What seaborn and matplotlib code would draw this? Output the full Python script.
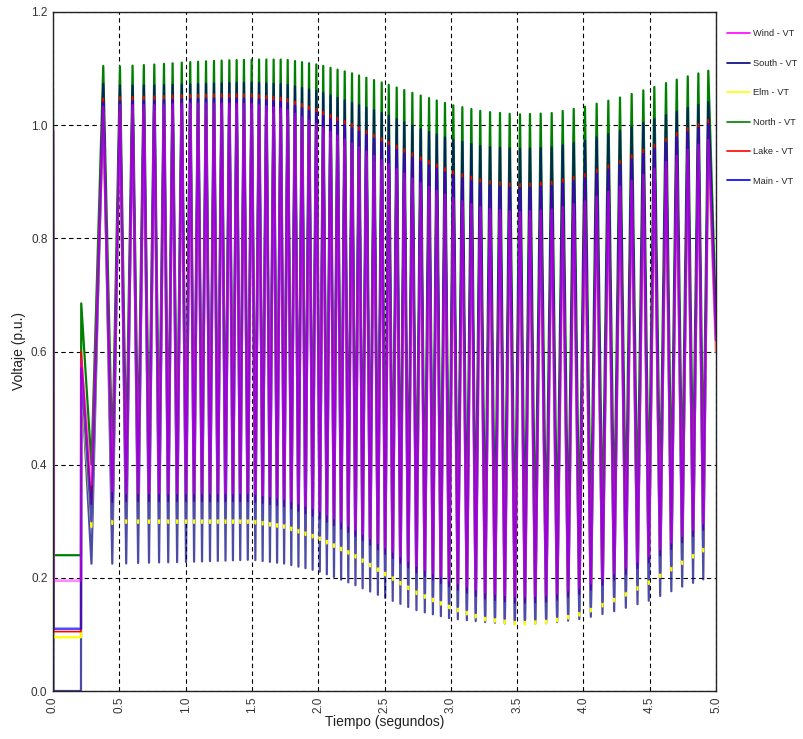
import numpy as np
import pandas as pd
import matplotlib
matplotlib.use("Agg")
import matplotlib.pyplot as plt
import seaborn as sns
from matplotlib.lines import Line2D

# series (legend order) and their colours
SERIES = ["Wind - VT", "South - VT", "Elm - VT", "North - VT", "Lake - VT", "Main - VT"]
COLORS = ["#ff00ff", "#000080", "#ffff00", "#008000", "#ff0000", "#0000ff"]

# fault period: pre-fault, fault applied, fault held, fault cleared
START_T = [0.0, 0.004, 0.211, 0.213]
START_V = {
    "Wind - VT":  [0.99, 0.195, 0.195, 0.585],
    "South - VT": [0.99, 0.0, 0.0, 0.56],
    "Elm - VT":   [0.975, 0.095, 0.095, 0.55],
    "North - VT": [1.062, 0.24, 0.24, 0.685],
    "Lake - VT":  [0.99, 0.105, 0.105, 0.60],
    "Main - VT":  [0.99, 0.11, 0.11, 0.57],
}

# times of the oscillation maxima
PEAK_T = [0.379, 0.505, 0.600, 0.685, 0.764, 0.837, 0.902, 0.971, 1.035, 1.094,
          1.154, 1.214, 1.272, 1.330, 1.385, 1.440, 1.498, 1.554, 1.609, 1.664,
          1.717, 1.770, 1.825, 1.878, 1.931, 1.986, 2.038, 2.093, 2.146, 2.200,
          2.255, 2.308, 2.363, 2.421, 2.479, 2.532, 2.592, 2.649, 2.710, 2.773,
          2.836, 2.894, 2.956, 3.019, 3.087, 3.155, 3.222, 3.296, 3.371, 3.444,
          3.522, 3.597, 3.678, 3.761, 3.844, 3.927, 4.012, 4.100, 4.188, 4.276,
          4.364, 4.452, 4.535, 4.623, 4.704, 4.787, 4.867, 4.942]
# times of the minima (the first one before each maximum)
TROUGH_T = [0.290, 0.447, 0.552, 0.642, 0.724, 0.800, 0.869, 0.936, 1.003, 1.064,
            1.124, 1.184, 1.243, 1.301, 1.357, 1.412, 1.469, 1.526, 1.581, 1.636,
            1.690, 1.743, 1.797, 1.851, 1.904, 1.958, 2.012, 2.065, 2.119, 2.173,
            2.227, 2.281, 2.335, 2.392, 2.450, 2.505, 2.562, 2.620, 2.679, 2.741,
            2.804, 2.865, 2.925, 2.987, 3.053, 3.121, 3.188, 3.259, 3.333, 3.407,
            3.483, 3.559, 3.637, 3.719, 3.802, 3.885, 3.969, 4.056, 4.144, 4.232,
            4.320, 4.408, 4.493, 4.579, 4.663, 4.745, 4.827, 4.904]

# envelopes (max / min of each swing) read at these times
ENV_T = [0.3, 0.5, 0.75, 1.0, 1.25, 1.5, 1.75, 2.0, 2.25, 2.5,
         2.75, 3.0, 3.25, 3.5, 3.75, 4.0, 4.25, 4.5, 4.75, 5.0]
UPPER = {
    "North - VT": [1.105, 1.104, 1.107, 1.111, 1.114, 1.116, 1.116, 1.107, 1.092, 1.074,
                   1.054, 1.036, 1.024, 1.019, 1.021, 1.032, 1.047, 1.065, 1.084, 1.100],
    "South - VT": [1.075, 1.070, 1.070, 1.072, 1.074, 1.075, 1.072, 1.060, 1.040, 1.020,
                   0.995, 0.975, 0.962, 0.958, 0.960, 0.972, 0.988, 1.008, 1.028, 1.045],
    "Lake - VT":  [1.046, 1.050, 1.051, 1.054, 1.055, 1.055, 1.048, 1.028, 1.003, 0.975,
                   0.946, 0.920, 0.903, 0.896, 0.900, 0.913, 0.935, 0.962, 0.992, 1.015],
    "Main - VT":  [1.038, 1.042, 1.043, 1.046, 1.047, 1.047, 1.040, 1.020, 0.995, 0.967,
                   0.938, 0.912, 0.895, 0.888, 0.892, 0.905, 0.927, 0.954, 0.984, 1.007],
    "Wind - VT":  [1.030, 1.035, 1.035, 1.038, 1.038, 1.037, 1.028, 1.000, 0.968, 0.935,
                   0.900, 0.872, 0.853, 0.846, 0.850, 0.864, 0.888, 0.918, 0.952, 0.980],
    "Elm - VT":   [1.020, 1.025, 1.025, 1.028, 1.028, 1.027, 1.018, 0.990, 0.958, 0.925,
                   0.890, 0.862, 0.843, 0.836, 0.840, 0.854, 0.878, 0.908, 0.942, 0.970],
}
LOWER = {
    "North - VT": [0.400, 0.420, 0.420, 0.420, 0.420, 0.420, 0.410, 0.390, 0.360, 0.330,
                   0.300, 0.270, 0.255, 0.250, 0.255, 0.270, 0.295, 0.325, 0.360, 0.390],
    "South - VT": [0.225, 0.225, 0.227, 0.228, 0.230, 0.232, 0.225, 0.212, 0.190, 0.165,
                   0.142, 0.128, 0.122, 0.118, 0.120, 0.128, 0.142, 0.160, 0.185, 0.205],
    "Lake - VT":  [0.330, 0.335, 0.335, 0.335, 0.335, 0.335, 0.326, 0.306, 0.278, 0.243,
                   0.208, 0.183, 0.163, 0.155, 0.158, 0.173, 0.198, 0.228, 0.263, 0.298],
    "Main - VT":  [0.300, 0.305, 0.305, 0.305, 0.305, 0.305, 0.296, 0.276, 0.248, 0.213,
                   0.178, 0.153, 0.133, 0.125, 0.128, 0.143, 0.168, 0.198, 0.233, 0.268],
    "Wind - VT":  [0.365, 0.350, 0.350, 0.350, 0.350, 0.350, 0.340, 0.320, 0.290, 0.255,
                   0.220, 0.195, 0.175, 0.167, 0.170, 0.185, 0.210, 0.240, 0.275, 0.310],
    "Elm - VT":   [0.290, 0.297, 0.297, 0.297, 0.297, 0.297, 0.288, 0.268, 0.240, 0.205,
                   0.170, 0.145, 0.125, 0.117, 0.120, 0.135, 0.160, 0.190, 0.225, 0.260],
}
END_T = 5.0
END_V = {"Wind - VT": 0.60, "South - VT": 0.62, "Elm - VT": 0.60,
         "North - VT": 0.66, "Lake - VT": 0.63, "Main - VT": 0.62}


def build(name):
    t = list(START_T)
    v = list(START_V[name])
    for i, tp in enumerate(PEAK_T):
        tt = TROUGH_T[i]
        t.append(tt)
        v.append(np.interp(tt, ENV_T, LOWER[name]))
        t.append(tp)
        v.append(np.interp(tp, ENV_T, UPPER[name]))
    t.append(END_T)
    v.append(END_V[name])
    return pd.DataFrame({"t": t, "v": v})


def main():
    sns.set_style("white")
    plt.rcParams["font.family"] = ["Liberation Sans", "DejaVu Sans"]

    fig = plt.figure(figsize=(8.04, 7.39), dpi=100)
    ax = fig.add_axes([53 / 804, 1 - 691 / 739, 663 / 804, 679 / 739])

    color = dict(zip(SERIES, COLORS))
    # drawing order: Wind last so it blends purple over Main
    order = [("North - VT", 1.0, 1.6), ("South - VT", 0.7, 1.6), ("Elm - VT", 1.0, 1.6),
             ("Lake - VT", 1.0, 1.2), ("Main - VT", 0.7, 1.8), ("Wind - VT", 0.45, 2.0)]
    for name, alpha, lw in order:
        df = build(name)
        sns.lineplot(data=df, x="t", y="v", color=color[name], linewidth=lw,
                     alpha=alpha, estimator=None, sort=False, ax=ax)

    ax.set_xlim(0, 5)
    ax.set_ylim(0, 1.2)
    ax.set_xticks(np.arange(0, 5.01, 0.5))
    ax.set_xticklabels([f"{x:.1f}" for x in np.arange(0, 5.01, 0.5)], rotation=90)
    ax.set_yticks(np.arange(0, 1.21, 0.2))
    ax.set_yticklabels([f"{y:.1f}" for y in np.arange(0, 1.21, 0.2)])
    ax.tick_params(length=0, labelsize=8.5, labelcolor="#333333", pad=4)
    ax.grid(True, color="black", linestyle=(0, (4, 3)), linewidth=0.8)
    for s in ax.spines.values():
        s.set_color("#222222")
        s.set_linewidth(1.0)

    ax.set_xlabel("Tiempo (segundos)", fontsize=10, color="#222222")
    ax.set_ylabel("Voltaje (p.u.)", fontsize=10, color="#222222")
    ax.xaxis.set_label_coords(0.5, -0.036)
    ax.yaxis.set_label_coords(-0.04, 0.5)

    handles = [Line2D([], [], color=c, lw=1.2) for c in COLORS]
    fig.legend(handles, SERIES, loc="upper left", bbox_to_anchor=(719 / 804, 1 - 21 / 739),
               frameon=False, prop={"family": "Liberation Sans", "size": 6.7},
               handlelength=2.4, labelspacing=2.2, handletextpad=0.35)

    fig.savefig("out.png", dpi=100)


if __name__ == "__main__":
    main()
